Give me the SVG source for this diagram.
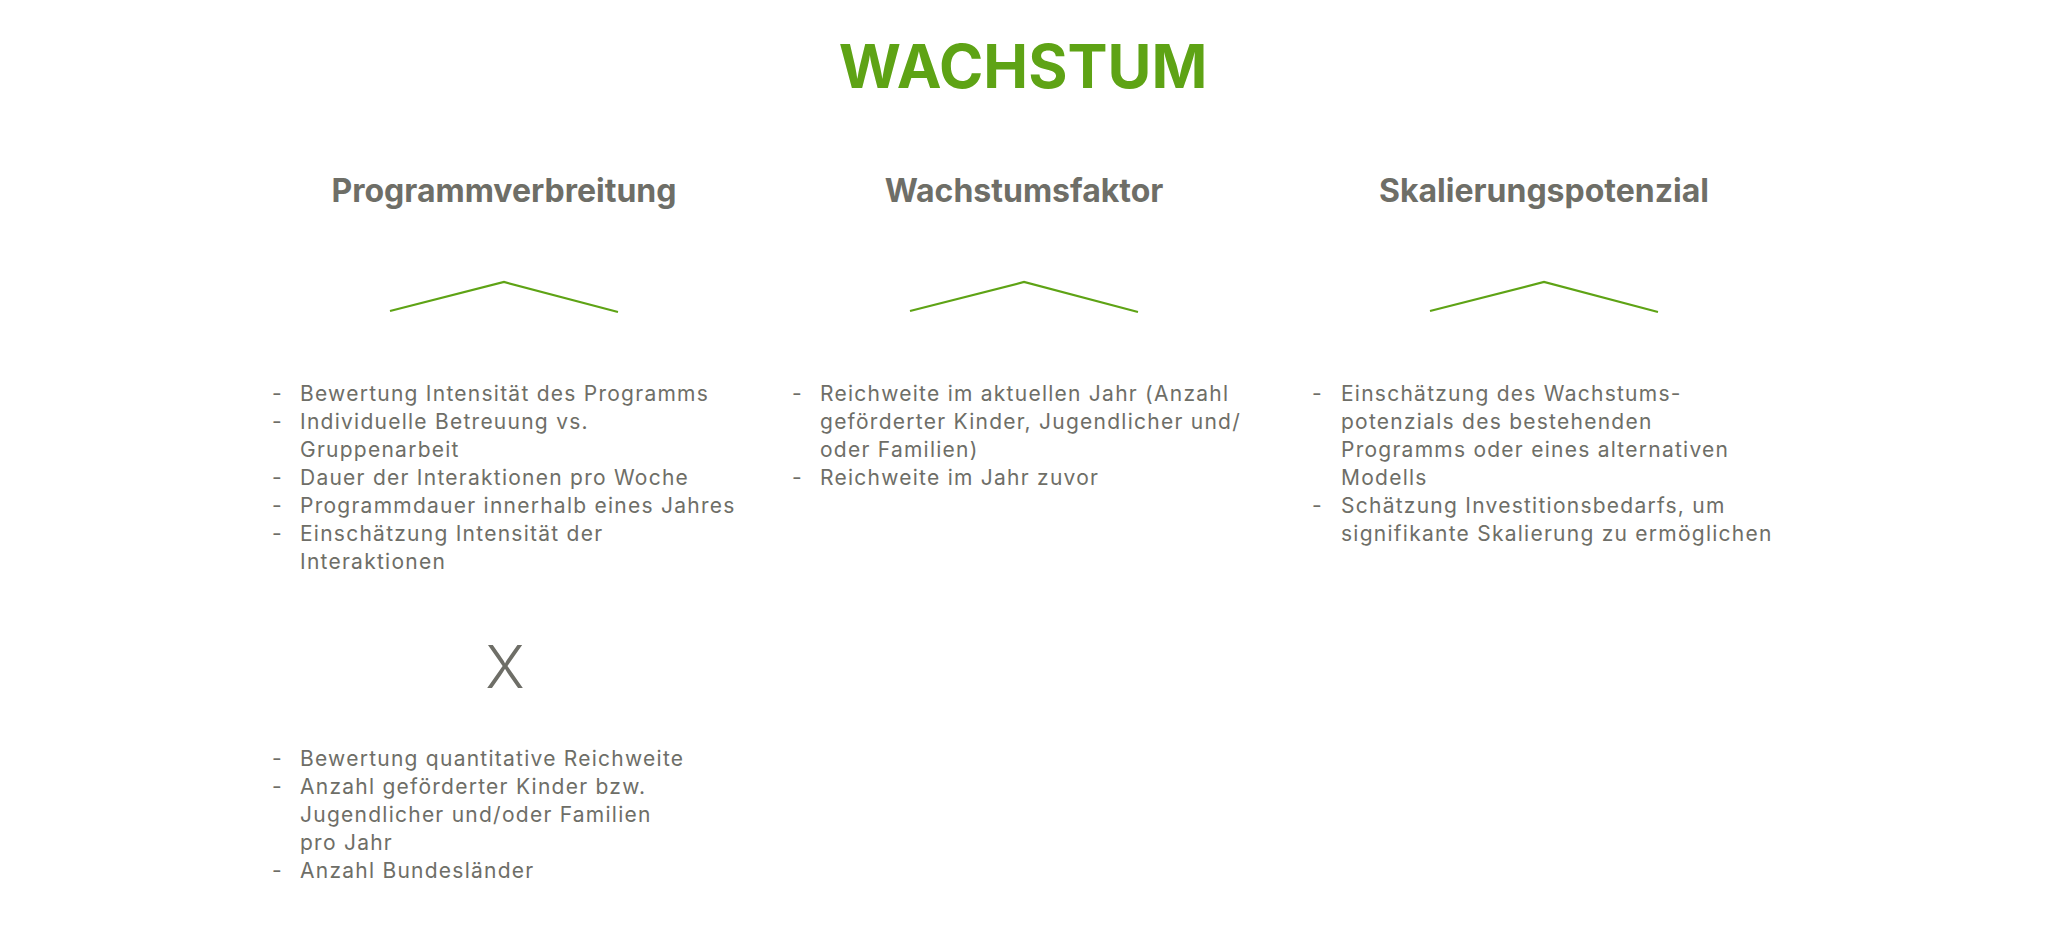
<svg xmlns="http://www.w3.org/2000/svg" width="2048" height="938" viewBox="0 0 2048 938">
<style>
.title{font-family:Inter,"Liberation Sans",sans-serif;font-weight:700;font-size:60px;fill:#5ea315;text-anchor:middle}
.head{font-family:Inter,"Liberation Sans",sans-serif;font-weight:700;font-size:32px;fill:#6e6e67;text-anchor:middle}
.item{font-family:Inter,"Liberation Sans",sans-serif;font-weight:400;font-size:21px;letter-spacing:1.25px;fill:#6e6e67}
.x{font-family:Inter,"Liberation Sans",sans-serif;font-weight:300;font-size:59px;fill:#6e6e67;text-anchor:middle}
.chev{fill:none;stroke:#5ea315;stroke-width:2.2}
</style>
<rect width="2048" height="938" fill="#ffffff"/>
<text id="title" class="title" x="1023" y="88">WACHSTUM</text>
<g id="connectors">
<polyline class="chev" points="390,311 504,282 618,312"/>
<polyline class="chev" points="910,311 1024,282 1138,312"/>
<polyline class="chev" points="1430,311 1544,282 1658,312"/>
</g>
<g id="col1">
<text class="head" x="504" y="202">Programmverbreitung</text>
<g class="item">
<text x="272" y="401">-</text><text x="300" y="401">Bewertung Intensität des Programms</text>
<text x="272" y="429">-</text><text x="300" y="429">Individuelle Betreuung vs.</text>
<text x="300" y="457">Gruppenarbeit</text>
<text x="272" y="485">-</text><text x="300" y="485">Dauer der Interaktionen pro Woche</text>
<text x="272" y="513">-</text><text x="300" y="513">Programmdauer innerhalb eines Jahres</text>
<text x="272" y="541">-</text><text x="300" y="541">Einschätzung Intensität der</text>
<text x="300" y="569">Interaktionen</text>
</g>
<text class="x" x="505" y="688">X</text>
<g class="item">
<text x="272" y="766">-</text><text x="300" y="766">Bewertung quantitative Reichweite</text>
<text x="272" y="794">-</text><text x="300" y="794">Anzahl geförderter Kinder bzw.</text>
<text x="300" y="822">Jugendlicher und/oder Familien</text>
<text x="300" y="850">pro Jahr</text>
<text x="272" y="878">-</text><text x="300" y="878">Anzahl Bundesländer</text>
</g>
</g>
<g id="col2">
<text class="head" x="1024" y="202">Wachstumsfaktor</text>
<g class="item">
<text x="792" y="401">-</text><text x="820" y="401">Reichweite im aktuellen Jahr (Anzahl</text>
<text x="820" y="429">geförderter Kinder, Jugendlicher und/</text>
<text x="820" y="457">oder Familien)</text>
<text x="792" y="485">-</text><text x="820" y="485">Reichweite im Jahr zuvor</text>
</g>
</g>
<g id="col3">
<text class="head" x="1544" y="202">Skalierungspotenzial</text>
<g class="item">
<text x="1312" y="401">-</text><text x="1341" y="401">Einschätzung des Wachstums-</text>
<text x="1341" y="429">potenzials des bestehenden</text>
<text x="1341" y="457">Programms oder eines alternativen</text>
<text x="1341" y="485">Modells</text>
<text x="1312" y="513">-</text><text x="1341" y="513">Schätzung Investitionsbedarfs, um</text>
<text x="1341" y="541">signifikante Skalierung zu ermöglichen</text>
</g>
</g>
</svg>
